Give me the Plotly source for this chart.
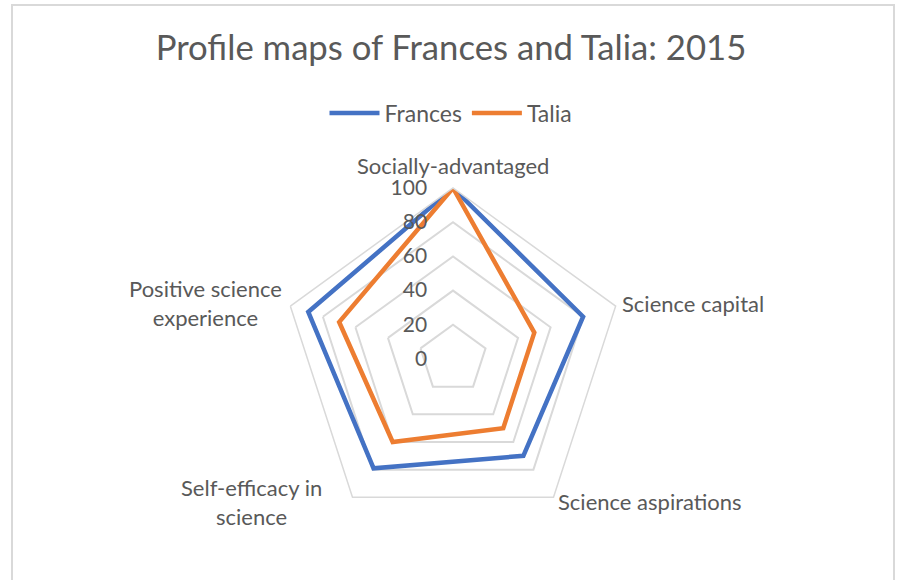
import math
import plotly.graph_objects as go

# Profile dimensions (clockwise from the top)
categories = [
    "Socially-advantaged",
    "Science capital",
    "Science aspirations",
    "Self-efficacy in<br>science",
    "Positive science<br>experience",
]
frances = [100, 80, 70, 79, 89]
talia = [100, 50, 50, 60, 70]
radial_ticks = [0, 20, 40, 60, 80, 100]

TEXT = "#595959"
GRID = "#d9d9d9"
FONT = "Lato"

fig = go.Figure()
for name, vals, color in [("Frances", frances, "#4472C4"), ("Talia", talia, "#ED7D31")]:
    fig.add_trace(go.Scatterpolar(
        r=vals + vals[:1],
        theta=categories + categories[:1],
        mode="lines",
        name=name,
        line=dict(color=color, width=4.5),
    ))

W, H = 902, 580
cx, cy, R = 453, 359, 171

# Category labels sit just outside each outer vertex, Excel-style
label_style = [
    # (xanchor, dx, dy)
    ("center", 0, -23),
    ("left", 4, -3),
    ("left", 2, 4),
    ("right", -28, 5),
    ("right", -6, -3),
]
annotations = []
for i, (text, (xa, dx, dy)) in enumerate(zip(categories, label_style)):
    ang = math.radians(72 * i)
    vx = cx + R * math.sin(ang)
    vy = cy - R * math.cos(ang)
    annotations.append(dict(
        text=text, xref="paper", yref="paper",
        x=(vx + dx) / W, y=1 - (vy + dy) / H,
        xanchor=xa, yanchor="middle", align="center", showarrow=False,
        font=dict(size=22, color=TEXT, family=FONT),
    ))

fig.update_layout(
    width=W, height=H,
    margin=dict(l=0, r=0, t=0, b=0),
    paper_bgcolor="white",
    font=dict(family=FONT, color=TEXT, size=21),
    title=dict(text="Profile maps of Frances and Talia: 2015",
               x=0.5, xanchor="center", y=1 - 48 / H, yanchor="middle",
               font=dict(size=34.7, color=TEXT, family=FONT)),
    legend=dict(orientation="h", x=0.5, xanchor="center", y=1 - 113 / H, yanchor="middle",
                font=dict(size=23, color=TEXT), itemwidth=50),
    polar=dict(
        domain=dict(x=[(cx - R) / W, (cx + R) / W], y=[1 - (cy + R) / H, 1 - (cy - R) / H]),
        bgcolor="white",
        gridshape="linear",
        radialaxis=dict(range=[0, 100], tickvals=radial_ticks, angle=90, tickangle=90,
                        showline=False, ticks="outside", ticklen=18,
                        tickcolor="rgba(0,0,0,0)", gridcolor=GRID, gridwidth=1.5,
                        tickfont=dict(size=21, color=TEXT), side="counterclockwise"),
        angularaxis=dict(direction="clockwise", rotation=90, showgrid=False,
                         showline=True, linecolor=GRID, linewidth=1.5, ticks="",
                         showticklabels=False),
    ),
    annotations=annotations,
    shapes=[dict(type="rect", xref="paper", yref="paper",
                 x0=12 / W, x1=894 / W, y0=-0.05, y1=1 - 5 / H,
                 line=dict(color=GRID, width=2))],
)

fig.write_html("out.html")
